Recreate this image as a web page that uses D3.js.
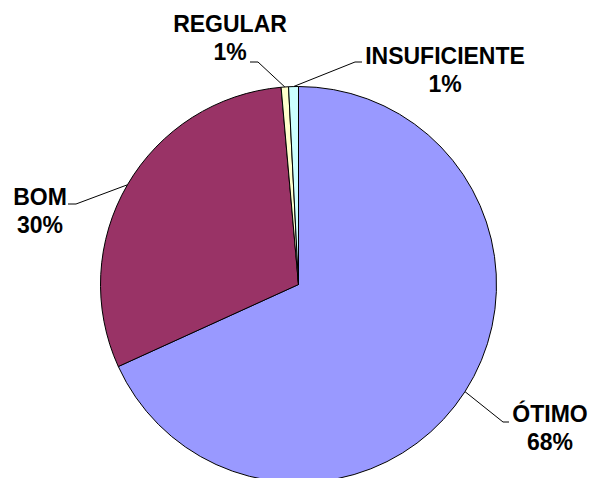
<!DOCTYPE html>
<html>
<head>
<meta charset="utf-8">
<script src="https://cdn.jsdelivr.net/npm/d3@7"></script>
<style>
  body { margin: 0; background: #fff; }
  svg { display: block; }
</style>
</head>
<body>
<svg id="chart"></svg>
<script>
const width = 594;
const height = 478;

// data
const categories = ['ÓTIMO', 'BOM', 'REGULAR', 'INSUFICIENTE'];
const values = [68.2, 30.4, 0.6, 0.8];
const colors = ['#9999FF', '#993366', '#FFFFCC', '#CCFFFF'];

// label layout: text centre x, first baseline y, leader elbow
const labelLayout = {
    'ÓTIMO':        { x: 550, y: 422, elbow: [[503, 422], [509, 422]] },
    'BOM':          { x: 40,  y: 205, elbow: [[76, 204], [68, 204]] },
    'REGULAR':      { x: 230, y: 32,  elbow: [[258, 62], [250, 62]] },
    'INSUFICIENTE': { x: 445, y: 64,  elbow: [[355, 62], [362, 62]] }
};

const cx = 298.5;
const cy = 284.5;
const radius = 198;

const svg = d3.select('#chart')
    .attr('width', width)
    .attr('height', height);

const total = d3.sum(values);
const data = categories.map((c, i) => ({ name: c, value: values[i], color: colors[i] }));

const pie = d3.pie().sort(null).value(d => d.value);
const arc = d3.arc().innerRadius(0).outerRadius(radius);

const arcs = pie(data);

const g = svg.append('g').attr('transform', `translate(${cx},${cy})`);

g.selectAll('path')
    .data(arcs)
    .enter().append('path')
    .attr('d', arc)
    .attr('fill', d => d.data.color)
    .attr('stroke', '#000')
    .attr('stroke-width', 1)
    .attr('stroke-linejoin', 'round');

// leader lines from slice mid-angle on the rim
arcs.forEach(d => {
    const mid = (d.startAngle + d.endAngle) / 2;
    const px = cx + radius * Math.sin(mid);
    const py = cy - radius * Math.cos(mid);
    const lay = labelLayout[d.data.name];
    const pts = [[px, py]].concat(lay.elbow);
    svg.append('path')
        .attr('d', d3.line()(pts))
        .attr('fill', 'none')
        .attr('stroke', '#000')
        .attr('stroke-width', 1);

    const t = svg.append('text')
        .attr('text-anchor', 'middle')
        .attr('font-family', '"Liberation Sans", Arial, sans-serif')
        .attr('font-weight', 'bold')
        .attr('font-size', 23)
        .attr('fill', '#000');
    t.append('tspan').attr('x', lay.x).attr('y', lay.y).text(d.data.name);
    t.append('tspan').attr('x', lay.x).attr('y', lay.y + 28)
        .text(Math.round(d.data.value / total * 100) + '%');
});
</script>
</body>
</html>
